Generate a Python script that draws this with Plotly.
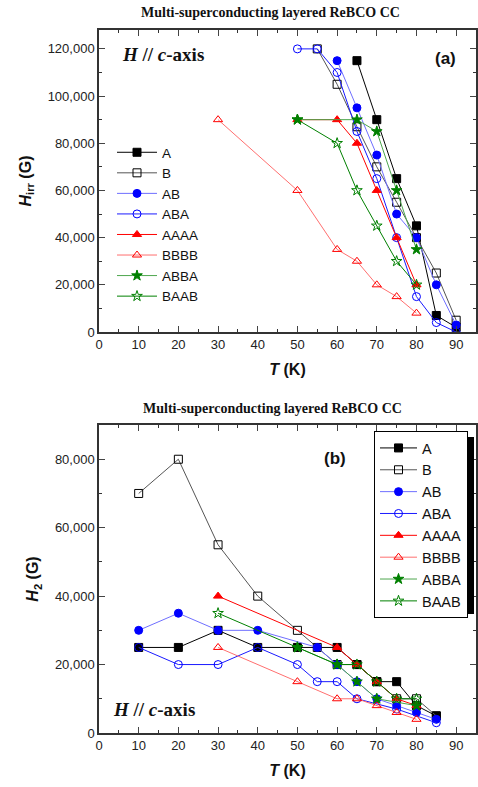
import plotly.graph_objects as go

# ---------------- Data: panel (a) H_irr vs T ----------------
a_A_T = [65, 70, 75, 80, 85, 90]
a_A_H = [115000, 90000, 65000, 45000, 7000, 2000]
a_B_T = [55, 60, 65, 70, 75, 80, 85, 90]
a_B_H = [120000, 105000, 87000, 70000, 55000, 40000, 25000, 5000]
a_AB_T = [60, 65, 70, 75, 80, 85, 90]
a_AB_H = [115000, 95000, 75000, 50000, 40000, 20000, 3000]
a_ABA_T = [50, 55, 60, 65, 70, 75, 80, 85, 90]
a_ABA_H = [120000, 120000, 110000, 85000, 65000, 40000, 15000, 4000, 0]
a_AAAA_T = [50, 60, 65, 70, 75, 80]
a_AAAA_H = [90000, 90000, 80000, 60000, 40000, 20000]
a_BBBB_T = [30, 50, 60, 65, 70, 75, 80]
a_BBBB_H = [90000, 60000, 35000, 30000, 20000, 15000, 8000]
a_ABBA_T = [50, 65, 70, 75, 80]
a_ABBA_H = [90000, 90000, 85000, 60000, 35000]
a_BAAB_T = [50, 60, 65, 70, 75, 80]
a_BAAB_H = [90000, 80000, 60000, 45000, 30000, 20000]

# ---------------- Data: panel (b) H2 vs T ----------------
b_A_T = [10, 20, 30, 40, 50, 60, 65, 70, 75, 80, 85]
b_A_H = [25000, 25000, 30000, 25000, 25000, 25000, 20000, 15000, 15000, 8000, 5000]
b_B_T = [10, 20, 30, 40, 50, 55, 60, 65, 70, 75, 80, 85]
b_B_H = [70000, 80000, 55000, 40000, 30000, 25000, 20000, 20000, 15000, 10000, 10000, 5000]
b_AB_T = [10, 20, 30, 40, 55, 60, 65, 70, 75, 80, 85]
b_AB_H = [30000, 35000, 30000, 30000, 25000, 20000, 15000, 10000, 8000, 6000, 4000]
b_ABA_T = [10, 20, 30, 40, 50, 55, 60, 65, 75, 85]
b_ABA_H = [25000, 20000, 20000, 25000, 20000, 15000, 15000, 10000, 7000, 3000]
b_AAAA_T = [30, 60, 65, 70, 75, 80]
b_AAAA_H = [40000, 25000, 20000, 15000, 10000, 8000]
b_BBBB_T = [30, 50, 60, 65, 70, 75, 80]
b_BBBB_H = [25000, 15000, 10000, 10000, 8000, 6000, 4000]
b_ABBA_T = [50, 60, 65, 70, 80]
b_ABBA_H = [25000, 20000, 15000, 10000, 8000]
b_BAAB_T = [30, 50, 60, 65, 70, 75, 80]
b_BAAB_H = [35000, 25000, 20000, 20000, 15000, 10000, 10000]

names = ["A", "B", "AB", "ABA", "AAAA", "BBBB", "ABBA", "BAAB"]
a_data = [(a_A_T, a_A_H), (a_B_T, a_B_H), (a_AB_T, a_AB_H), (a_ABA_T, a_ABA_H),
          (a_AAAA_T, a_AAAA_H), (a_BBBB_T, a_BBBB_H), (a_ABBA_T, a_ABBA_H), (a_BAAB_T, a_BAAB_H)]
b_data = [(b_A_T, b_A_H), (b_B_T, b_B_H), (b_AB_T, b_AB_H), (b_ABA_T, b_ABA_H),
          (b_AAAA_T, b_AAAA_H), (b_BBBB_T, b_BBBB_H), (b_ABBA_T, b_ABBA_H), (b_BAAB_T, b_BAAB_H)]

styles = [
    dict(line="#000000", mc="#000000", sym="square"),
    dict(line="#555555", mc="#000000", sym="square-open"),
    dict(line="#6f6fff", mc="#0000ff", sym="circle"),
    dict(line="#1a1aff", mc="#0000ff", sym="circle-open"),
    dict(line="#ff0000", mc="#ff0000", sym="triangle-up"),
    dict(line="#ff6f6f", mc="#ff0000", sym="triangle-up-open"),
    dict(line="#4da64d", mc="#008000", sym="star"),
    dict(line="#008000", mc="#008000", sym="star-open"),
]

fig = go.Figure()
for i, (nm, st) in enumerate(zip(names, styles)):
    for (T, H), xa, ya, lg in [(a_data[i], "x", "y", "legend"), (b_data[i], "x2", "y2", "legend2")]:
        fig.add_trace(go.Scatter(
            x=T, y=H, name=nm, mode="lines+markers", xaxis=xa, yaxis=ya, legend=lg,
            line=dict(color=st["line"], width=1),
            marker=dict(symbol=st["sym"], color=st["mc"], size=8,
                        line=dict(color=st["mc"], width=1)),
        ))

tickfont = dict(family="Liberation Sans, Arial", size=13, color="#222")
def xaxis_cfg(anchor):
    return dict(range=[0, 95], dtick=10, tick0=0, ticks="inside", ticklen=6, mirror="ticks",
                showline=True, linecolor="#333", linewidth=1.5, showgrid=False, zeroline=False,
                tickfont=tickfont, anchor=anchor, automargin=False,
                minor=dict(dtick=5, ticks="inside", ticklen=3, tickcolor="#333"),
                title=dict(text="<b><i>T</i> (K)</b>", font=dict(family="Liberation Sans, Arial", size=16, color="#111"), standoff=12))
def yaxis_cfg(rng, title, anchor, domain):
    return dict(range=rng, dtick=20000, tick0=0, ticks="inside", ticklen=6, mirror="ticks",
                showline=True, linecolor="#333", linewidth=1.5, showgrid=False, zeroline=False,
                tickformat=",d", tickfont=tickfont, anchor=anchor, domain=domain, automargin=False,
                minor=dict(dtick=10000, ticks="inside", ticklen=3, tickcolor="#333"),
                title=dict(text=title, font=dict(family="Liberation Sans, Arial", size=16, color="#111"), standoff=12))

def px_x(p):
    return (p - 99) / 377.0
def px_y(p):
    return (733 - p) / 703.0

fig.update_layout(
    width=478, height=787, paper_bgcolor="white", plot_bgcolor="white",
    margin=dict(l=99, r=2, t=30, b=54, autoexpand=False),
    xaxis=xaxis_cfg("y"),
    yaxis=yaxis_cfg([0, 128000], "<b><i>H</i><sub>irr</sub> (G)</b>", "x", [0.5704, 1.0]),
    xaxis2=xaxis_cfg("y2"),
    yaxis2=yaxis_cfg([0, 90000], "<b><i>H</i><sub>2</sub> (G)</b>", "x2", [0, 0.4381]),
    legend=dict(x=px_x(112), y=px_y(137), xanchor="left", yanchor="top", bgcolor="rgba(0,0,0,0)",
                font=dict(family="Liberation Sans, Arial", size=13.5, color="#111"),
                tracegroupgap=0, itemwidth=40),
    legend2=dict(x=px_x(374), y=px_y(431), xanchor="left", yanchor="top", bgcolor="white",
                 bordercolor="#000", borderwidth=1,
                 font=dict(family="Liberation Sans, Arial", size=14.5, color="#111"),
                 tracegroupgap=0, itemwidth=37),
    showlegend=True,
)

# legend shadow (b)
fig.add_shape(type="rect", xref="paper", yref="paper", layer="above",
              x0=px_x(378), x1=px_x(474), y0=px_y(614), y1=px_y(437),
              fillcolor="#000", line=dict(width=0))

serif = "Liberation Serif, Times New Roman"
fig.add_annotation(xref="paper", yref="paper", x=0.455, y=1.0, yshift=18, yanchor="middle", showarrow=False,
                   text="<b>Multi-superconducting layered ReBCO CC</b>",
                   font=dict(family=serif, size=14, color="#111"))
fig.add_annotation(xref="paper", yref="paper", x=0.46, y=0.4381, yshift=17, yanchor="middle", showarrow=False,
                   text="<b>Multi-superconducting layered ReBCO CC</b>",
                   font=dict(family=serif, size=14, color="#111"))
fig.add_annotation(xref="paper", yref="paper", x=px_x(120), y=px_y(54), xanchor="left", yanchor="middle", showarrow=False,
                   text="<b><i>H</i> // <i>c</i>-axis</b>", font=dict(family=serif, size=19, color="#111"))
fig.add_annotation(xref="paper", yref="paper", x=px_x(111), y=px_y(709), xanchor="left", yanchor="middle", showarrow=False,
                   text="<b><i>H</i> // <i>c</i>-axis</b>", font=dict(family=serif, size=19, color="#111"))
fig.add_annotation(xref="paper", yref="paper", x=px_x(445), y=px_y(58), xanchor="center", yanchor="middle", showarrow=False,
                   text="<b>(a)</b>", font=dict(family="Liberation Sans, Arial", size=17, color="#111"))
fig.add_annotation(xref="paper", yref="paper", x=px_x(335), y=px_y(458), xanchor="center", yanchor="middle", showarrow=False,
                   text="<b>(b)</b>", font=dict(family="Liberation Sans, Arial", size=17, color="#111"))

fig.write_html("out.html", config={"displayModeBar": False},
               post_script="document.body.style.margin='0px';document.body.style.overflow='hidden';")
